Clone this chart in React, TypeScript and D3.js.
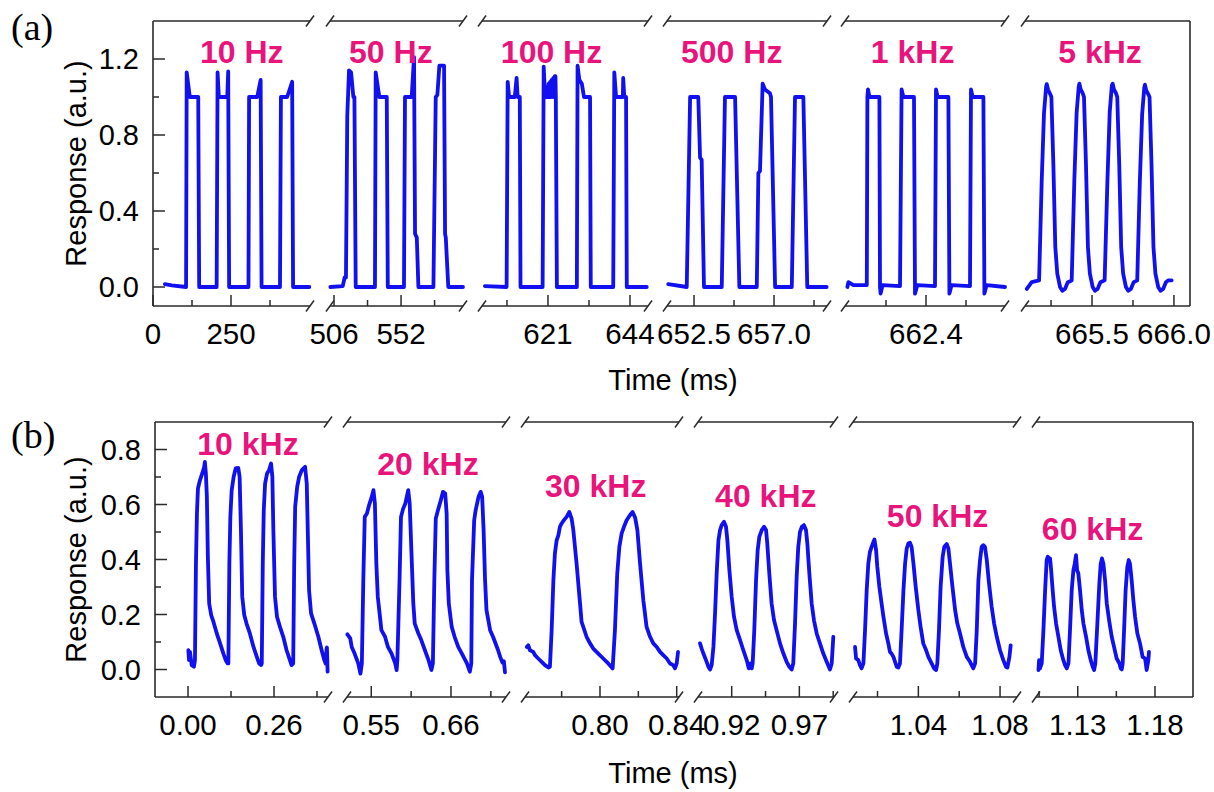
import React from "react";
import * as d3 from "d3";

type Pt = [number, number];

// ---------- panel (a): response vs time (ms) ----------
const trace10Hz: Pt[] = [
  [38, 0.015], [60, 0.008], [106, 0.0], [108, 1.13], [118, 1.0], [145, 1.0], [148, 0.0],
  [204, 0.0], [207, 1.13], [211, 1.0], [238, 1.0], [241, 1.135], [244, 0.0],
  [306, 0.0], [308, 1.0], [334, 1.0], [345, 1.09], [348, 0.0],
  [407, 0.0], [410, 1.0], [430, 1.0], [446, 1.08], [449, 0.0], [501, 0.0],
];
const trace50Hz: Pt[] = [
  [503.5, 0.0], [512, 0.005], [513.3, 0.05], [514.2, 0.05], [515.1, 0.9], [516.3, 1.14], [517.7, 1.13],
  [519.3, 1.0], [520, 1.0], [520.9, 0.0],
  [534.1, 0.0], [534.6, 1.13], [537.1, 1.0], [542.2, 1.0], [542.9, 0.0],
  [554, 0.0], [554.7, 1.0], [559.3, 1.0], [560.9, 1.21], [561.6, 0.28], [562.8, 0.26], [563.9, 0.0],
  [574.2, 0.0], [575.8, 1.0], [576.9, 1.01], [578.3, 1.165], [581.5, 1.165], [582.2, 0.28], [582.7, 0.26],
  [584.4, 0.0], [594.5, 0.0],
];
const trace100Hz: Pt[] = [
  [603.3, 0.005], [609.4, 0.0], [609.7, 1.08], [610.1, 1.0], [611.7, 1.0], [612.2, 1.1], [612.5, 1.0],
  [613.1, 1.0], [613.3, 0.0],
  [619.5, 0.0], [619.8, 1.16], [620.2, 1.0], [620.6, 1.0], [620.8, 1.05], [620.9, 1.0], [621.2, 1.07],
  [621.3, 1.0], [621.6, 1.08], [621.7, 1.0], [622.0, 1.09], [622.1, 1.0], [622.5, 1.1], [622.6, 1.0],
  [622.9, 1.11], [623.0, 1.0], [623.1, 1.11], [623.2, 1.0], [623.5, 0.0],
  [629.1, 0.0], [629.3, 1.165], [629.8, 1.09], [630.5, 1.07], [631.1, 1.0], [632.8, 1.0], [633.0, 0.0],
  [639.3, 0.0], [639.6, 1.13], [640.1, 1.0], [642.0, 1.0], [642.1, 1.1], [642.4, 1.0], [642.9, 1.0],
  [643.1, 0.0], [648.7, 0.0],
];
const trace500Hz: Pt[] = [
  [651.05, 0.015], [652.09, 0.0], [652.28, 1.0], [652.74, 1.0], [652.84, 0.68], [652.93, 0.67], [653.06, 0.0],
  [654.06, 0.0], [654.24, 1.0], [654.81, 1.0], [655.05, 0.0],
  [656.03, 0.0], [656.12, 0.6], [656.21, 0.61], [656.36, 1.07], [656.49, 1.04], [656.77, 1.02], [656.83, 1.0],
  [657.06, 0.0],
  [658.0, 0.0], [658.18, 1.0], [658.65, 1.0], [658.87, 0.0], [659.96, 0.0],
];
const trace1kHz: Pt[] = [
  [662.007, 0.0], [662.012, 0.026], [662.037, 0.01], [662.104, 0.01], [662.107, 1.0], [662.11, 1.04],
  [662.117, 1.0], [662.167, 1.0], [662.17, 0.0], [662.173, -0.035], [662.183, 0.01], [662.27, 0.005],
  [662.278, 1.04], [662.287, 1.0], [662.34, 1.0], [662.345, -0.035], [662.357, 0.01], [662.445, 0.005],
  [662.45, 1.04], [662.458, 1.0], [662.512, 1.0], [662.517, -0.035], [662.528, 0.01], [662.62, 0.005],
  [662.625, 1.04], [662.633, 1.0], [662.687, 1.0], [662.692, -0.035], [662.703, 0.01], [662.795, 0.0],
];
const trace5kHz: Pt[] = [
  [665.102, -0.01], [665.132, 0.026], [665.163, 0.032], [665.177, 0.035], [665.193, 0.56], [665.207, 0.915],
  [665.22, 1.055], [665.224, 1.068], [665.232, 1.038], [665.244, 1.017], [665.252, 1.0], [665.264, 0.65],
  [665.276, 0.21], [665.288, 0.07], [665.305, 0.0], [665.319, -0.02], [665.335, -0.01], [665.352, 0.025],
  [665.37, 0.032],
  [665.376, 0.035], [665.392, 0.56], [665.406, 0.915], [665.419, 1.055], [665.423, 1.07], [665.431, 1.04],
  [665.443, 1.02], [665.451, 1.0], [665.463, 0.65], [665.475, 0.21], [665.487, 0.07], [665.504, 0.0],
  [665.518, -0.02], [665.534, -0.01], [665.551, 0.025], [665.568, 0.032],
  [665.577, 0.035], [665.594, 0.56], [665.608, 0.92], [665.621, 1.06], [665.626, 1.07], [665.634, 1.04],
  [665.646, 1.02], [665.654, 1.0], [665.666, 0.65], [665.678, 0.21], [665.69, 0.07], [665.707, 0.0],
  [665.721, -0.02], [665.737, -0.01], [665.754, 0.025], [665.77, 0.032],
  [665.776, 0.035], [665.792, 0.56], [665.806, 0.91], [665.819, 1.05], [665.823, 1.065], [665.831, 1.035],
  [665.843, 1.015], [665.851, 1.0], [665.863, 0.65], [665.875, 0.21], [665.887, 0.07], [665.904, 0.0],
  [665.918, -0.02], [665.934, -0.01], [665.951, 0.025], [665.965, 0.035], [665.986, 0.035],
];

const freqA = ["10 Hz", "50 Hz", "100 Hz", "500 Hz", "1 kHz", "5 kHz"];
const freqAAt: Pt[] = [[284.3, 1.18], [545.0, 1.18], [622.0, 1.18], [654.62, 1.18], [662.333, 1.18], [665.549, 1.18]];
const domainsA: Pt[] = [[0, 503.2], [503.25, 594.5], [602.5, 649.05], [650.98, 659.98], [661.995, 662.795], [665.091, 666.098]];
const majorA = [[0, 250], [506, 552], [621, 644], [652.5, 657], [662.4], [665.5, 666]];
const majorLabelsA = [["0", "250"], ["506", "552"], ["621", "644"], ["652.5", "657.0"], ["662.4"], ["665.5", "666.0"]];
const minorA = [[125, 375], [529, 575], [609.5, 632.5], [654.75, 659.25], [662.2, 662.6], [665.25, 665.75]];
const yDomainA: Pt = [-0.1, 1.4];
const yMajorA = [0, 0.4, 0.8, 1.2];
const yMinorA = [0.2, 0.6, 1.0];

// ---------- panel (b) ----------
const trace10kHz: Pt[] = [
  [0.001, 0.07], [0.003, 0.034], [0.006, 0.064], [0.011, 0.016], [0.018, 0.01], [0.021, 0.034], [0.024, 0.385],
  [0.027, 0.567], [0.03, 0.658], [0.036, 0.688], [0.043, 0.713], [0.049, 0.737], [0.051, 0.755], [0.054, 0.713],
  [0.057, 0.628], [0.06, 0.41], [0.064, 0.24], [0.07, 0.198], [0.077, 0.173], [0.087, 0.131], [0.097, 0.095],
  [0.107, 0.058], [0.114, 0.034], [0.12, 0.022],
  [0.122, 0.022], [0.125, 0.385], [0.128, 0.555], [0.132, 0.652], [0.138, 0.701], [0.144, 0.731], [0.152, 0.733],
  [0.156, 0.701], [0.16, 0.507], [0.164, 0.264], [0.17, 0.198], [0.177, 0.167], [0.187, 0.131], [0.198, 0.082],
  [0.208, 0.046], [0.215, 0.022], [0.221, 0.016],
  [0.223, 0.022], [0.226, 0.385], [0.229, 0.579], [0.233, 0.676], [0.239, 0.713], [0.245, 0.725], [0.251, 0.749],
  [0.255, 0.701], [0.258, 0.507], [0.263, 0.264], [0.269, 0.192], [0.278, 0.155], [0.288, 0.119], [0.298, 0.07],
  [0.308, 0.034], [0.313, 0.016],
  [0.318, 0.022], [0.321, 0.385], [0.324, 0.592], [0.33, 0.664], [0.336, 0.701], [0.344, 0.725], [0.354, 0.737],
  [0.359, 0.676], [0.362, 0.507], [0.366, 0.288], [0.372, 0.204], [0.382, 0.167], [0.394, 0.119], [0.404, 0.07],
  [0.412, 0.034], [0.416, 0.022], [0.419, 0.076], [0.42, 0.08], [0.422, -0.008],
];
const trace20kHz: Pt[] = [
  [0.517, 0.128], [0.521, 0.113], [0.523, 0.082], [0.527, 0.058], [0.532, 0.022], [0.535, -0.015], [0.537, 0.022],
  [0.539, 0.325], [0.541, 0.555], [0.544, 0.567], [0.547, 0.598], [0.55, 0.622], [0.553, 0.652], [0.555, 0.604],
  [0.557, 0.385], [0.559, 0.264], [0.562, 0.192], [0.564, 0.143], [0.569, 0.119], [0.573, 0.082], [0.578, 0.058],
  [0.583, 0.022], [0.585, -0.002],
  [0.586, 0.034], [0.589, 0.325], [0.591, 0.555], [0.594, 0.585], [0.597, 0.604], [0.601, 0.652], [0.603, 0.604],
  [0.606, 0.385], [0.608, 0.24], [0.61, 0.167], [0.615, 0.131], [0.619, 0.107], [0.624, 0.07], [0.629, 0.034],
  [0.633, -0.002],
  [0.635, 0.022], [0.637, 0.325], [0.639, 0.549], [0.642, 0.579], [0.646, 0.616], [0.649, 0.646], [0.652, 0.64],
  [0.654, 0.567], [0.655, 0.361], [0.657, 0.24], [0.661, 0.155], [0.665, 0.119], [0.67, 0.082], [0.675, 0.058],
  [0.682, 0.022], [0.686, -0.008],
  [0.688, 0.022], [0.689, 0.325], [0.692, 0.543], [0.694, 0.579], [0.698, 0.628], [0.701, 0.646], [0.703, 0.628],
  [0.705, 0.507], [0.707, 0.325], [0.709, 0.216], [0.714, 0.143], [0.718, 0.119], [0.725, 0.07], [0.728, 0.045],
  [0.731, 0.025], [0.733, 0.03], [0.7345, -0.01],
];
const trace30kHz: Pt[] = [
  [0.7618, 0.082], [0.7626, 0.088], [0.7635, 0.07], [0.7652, 0.064], [0.7661, 0.052], [0.7678, 0.04], [0.7696, 0.028],
  [0.7713, 0.016], [0.7731, 0.007], [0.7739, 0.01], [0.7748, 0.143], [0.7757, 0.325], [0.7765, 0.422], [0.7774, 0.47],
  [0.7783, 0.488], [0.7791, 0.519], [0.78, 0.531], [0.7812, 0.543], [0.7826, 0.555], [0.784, 0.573], [0.7852, 0.549],
  [0.7861, 0.507], [0.7878, 0.385], [0.7896, 0.24], [0.7904, 0.173], [0.7913, 0.155], [0.793, 0.119], [0.7948, 0.095],
  [0.7965, 0.076], [0.7991, 0.058], [0.8017, 0.04], [0.8043, 0.022], [0.8066, 0.004],
  [0.8078, 0.143], [0.809, 0.349], [0.8101, 0.446], [0.8113, 0.495], [0.8125, 0.519], [0.8139, 0.543], [0.8156, 0.561],
  [0.817, 0.573], [0.8183, 0.553], [0.8195, 0.507], [0.8209, 0.385], [0.8226, 0.252], [0.8243, 0.155], [0.8261, 0.119],
  [0.8278, 0.095], [0.8296, 0.082], [0.8313, 0.064], [0.833, 0.052], [0.8348, 0.04], [0.8365, 0.022], [0.8382, 0.016],
  [0.8391, 0.004], [0.84, 0.022], [0.8407, 0.064],
];
const trace40kHz: Pt[] = [
  [0.8966, 0.095], [0.8978, 0.076], [0.8991, 0.058], [0.901, 0.034], [0.9028, 0.01], [0.904, 0.0], [0.9052, 0.016],
  [0.9065, 0.082], [0.9077, 0.204], [0.9089, 0.349], [0.9102, 0.47], [0.9114, 0.507], [0.9126, 0.525], [0.9143, 0.537],
  [0.9158, 0.519], [0.9168, 0.47], [0.9183, 0.361], [0.92, 0.264], [0.9217, 0.192], [0.9237, 0.143], [0.9262, 0.107],
  [0.9286, 0.07], [0.9311, 0.034], [0.9326, 0.004], [0.934, 0.022], [0.9348, 0.004],
  [0.9355, 0.022], [0.9367, 0.143], [0.938, 0.325], [0.9392, 0.434], [0.9404, 0.482], [0.9422, 0.507], [0.9439, 0.519],
  [0.9454, 0.507], [0.9463, 0.458], [0.9478, 0.349], [0.9495, 0.24], [0.9513, 0.179], [0.9532, 0.143], [0.9557, 0.095],
  [0.9582, 0.058], [0.9606, 0.028], [0.9626, 0.01], [0.9643, 0.0],
  [0.9655, 0.022], [0.9668, 0.167], [0.968, 0.337], [0.9692, 0.446], [0.9705, 0.501], [0.9719, 0.519], [0.9734, 0.525],
  [0.9749, 0.507], [0.9759, 0.458], [0.9774, 0.349], [0.9791, 0.24], [0.9808, 0.179], [0.9828, 0.131], [0.9852, 0.095],
  [0.9877, 0.058], [0.9902, 0.028], [0.9926, 0.0], [0.9939, 0.022], [0.9951, 0.119],
];
const trace50kHz: Pt[] = [
  [1.009, 0.082], [1.0095, 0.04], [1.0106, 0.034], [1.0114, 0.016], [1.0122, 0.004], [1.0131, 0.022], [1.0139, 0.143],
  [1.0147, 0.288], [1.0155, 0.385], [1.0163, 0.428], [1.0171, 0.446], [1.018, 0.464], [1.0185, 0.473], [1.0193, 0.434],
  [1.0199, 0.373], [1.0209, 0.301], [1.022, 0.24], [1.0229, 0.192], [1.0242, 0.131], [1.0253, 0.095], [1.0261, 0.064],
  [1.0269, 0.058], [1.0278, 0.046], [1.0286, 0.028], [1.0294, 0.01], [1.0302, 0.007],
  [1.031, 0.022], [1.0318, 0.143], [1.0327, 0.288], [1.0335, 0.385], [1.0343, 0.44], [1.0351, 0.458], [1.0359, 0.461],
  [1.0367, 0.446], [1.0376, 0.385], [1.0387, 0.301], [1.04, 0.216], [1.0411, 0.155], [1.0424, 0.095], [1.0438, 0.07],
  [1.0449, 0.046], [1.0465, 0.022], [1.0477, 0.004], [1.0487, -0.002],
  [1.0493, 0.022], [1.0501, 0.143], [1.0509, 0.301], [1.0519, 0.41], [1.0527, 0.446], [1.0539, 0.456], [1.0547, 0.44],
  [1.0555, 0.385], [1.0567, 0.301], [1.058, 0.216], [1.0591, 0.167], [1.0604, 0.131], [1.062, 0.082], [1.0637, 0.046],
  [1.0653, 0.028], [1.0669, 0.004],
  [1.0678, 0.022], [1.0686, 0.143], [1.0694, 0.325], [1.0702, 0.398], [1.071, 0.446], [1.0718, 0.452], [1.0726, 0.446],
  [1.0735, 0.398], [1.0746, 0.313], [1.0759, 0.228], [1.0771, 0.167], [1.0784, 0.119], [1.08, 0.07], [1.0816, 0.034],
  [1.0829, 0.01], [1.0836, 0.007], [1.0846, 0.046], [1.0852, 0.088],
];
const trace60kHz: Pt[] = [
  [1.1046, -0.002], [1.105, 0.034], [1.1056, 0.004], [1.1067, 0.022], [1.1078, 0.143], [1.1089, 0.288], [1.1099, 0.398],
  [1.1106, 0.41], [1.1115, 0.404], [1.1121, 0.404], [1.1128, 0.361], [1.1136, 0.301], [1.1147, 0.228], [1.116, 0.167],
  [1.1175, 0.119], [1.119, 0.07], [1.1207, 0.034], [1.1218, 0.016], [1.1229, 0.004],
  [1.124, 0.022], [1.125, 0.143], [1.1261, 0.288], [1.1272, 0.361], [1.1281, 0.385], [1.1289, 0.416], [1.1296, 0.361],
  [1.1304, 0.349], [1.1315, 0.288], [1.1326, 0.216], [1.1337, 0.167], [1.1354, 0.119], [1.1369, 0.07], [1.1384, 0.034],
  [1.1397, 0.01], [1.1406, -0.002],
  [1.1414, 0.022], [1.1427, 0.167], [1.144, 0.313], [1.1449, 0.385], [1.1457, 0.404], [1.1466, 0.385], [1.1477, 0.325],
  [1.1488, 0.24], [1.1503, 0.179], [1.152, 0.119], [1.1535, 0.082], [1.1552, 0.04], [1.157, 0.022], [1.1578, 0.004],
  [1.1585, 0.0],
  [1.1591, 0.022], [1.16, 0.143], [1.161, 0.288], [1.1621, 0.373], [1.163, 0.398], [1.1638, 0.385], [1.1649, 0.325],
  [1.166, 0.252], [1.1671, 0.192], [1.1686, 0.131], [1.1703, 0.095], [1.172, 0.046], [1.1736, 0.04], [1.1746, -0.002],
  [1.1757, 0.034], [1.1761, 0.064],
];

const freqB = ["10 kHz", "20 kHz", "30 kHz", "40 kHz", "50 kHz", "60 kHz"];
const freqBAt: Pt[] = [[0.1814, 0.779], [0.6283, 0.7065], [0.7978, 0.6276], [0.9452, 0.5913], [1.0494, 0.5185], [1.1396, 0.4702]];
const domainsB: Pt[] = [[-0.0998, 0.4232], [0.5165, 0.7359], [0.7609, 0.8412], [0.8951, 0.9956], [1.008, 1.0883], [1.103, 1.2046]];
const majorB = [[0, 0.26], [0.55, 0.66], [0.8, 0.84], [0.92, 0.97], [1.04, 1.08], [1.13, 1.18]];
const minorB = [[0.13, 0.39], [0.605, 0.715], [0.78, 0.82], [0.945, 0.995], [1.02, 1.06], [1.105, 1.155]];
const yDomainB: Pt = [-0.1, 0.9];
const yMajorB = [0, 0.2, 0.4, 0.6, 0.8];
const yMinorB = [0.1, 0.3, 0.5, 0.7];

// layout
const panelA = {
  tag: "(a)", tagY: 40, left: 153, right: 1190, top: 21, bottom: 306, titleY: 390,
  segs: [[153, 310], [330, 463], [482, 648], [667, 827], [845, 1005], [1025, 1190]],
  domains: domainsA, traces: [trace10Hz, trace50Hz, trace100Hz, trace500Hz, trace1kHz, trace5kHz],
  major: majorA, labels: majorLabelsA, minor: minorA, freq: freqA, freqAt: freqAAt,
  yDomain: yDomainA, yMajor: yMajorA, yMinor: yMinorA,
};
const panelB = {
  tag: "(b)", tagY: 448, left: 155, right: 1193, top: 422, bottom: 697, titleY: 783,
  segs: [[155, 328], [347, 506], [525, 679], [698, 834], [853, 1017], [1036, 1193]],
  domains: domainsB, traces: [trace10kHz, trace20kHz, trace30kHz, trace40kHz, trace50kHz, trace60kHz],
  major: majorB, labels: majorB.map(a => a.map(d3.format(".2f"))), minor: minorB, freq: freqB, freqAt: freqBAt,
  yDomain: yDomainB, yMajor: yMajorB, yMinor: yMinorB,
};

const AX = "#2a2a2a";
const SANS = "'Liberation Sans', Arial, sans-serif";

function Panel({ p }: { p: any }) {
  const y = d3.scaleLinear().domain(p.yDomain).range([p.bottom, p.top]);
  const xs = p.segs.map((r: number[], i: number) => d3.scaleLinear().domain(p.domains[i]).range(r));
  const slash = (x: number, yy: number, k: string) => (
    <line key={k} x1={x - 4} y1={yy + 5.5} x2={x + 4} y2={yy - 5.5} stroke={AX} strokeWidth={1.5} />
  );
  const n = p.segs.length;
  const midY = (p.top + p.bottom) / 2;

  return (
    <g>
      <text x={11} y={p.tagY} fontFamily="'Liberation Serif', 'Times New Roman', serif" fontSize={38}>{p.tag}</text>

      {/* frame: full left/right, broken top/bottom */}
      <line x1={p.left} x2={p.left} y1={p.top} y2={p.bottom} stroke={AX} strokeWidth={1.6} />
      <line x1={p.right} x2={p.right} y1={p.top} y2={p.bottom} stroke={AX} strokeWidth={1.6} />
      {p.segs.map((r: number[], i: number) => (
        <g key={"s" + i}>
          <line x1={r[0]} x2={r[1]} y1={p.top} y2={p.top} stroke={AX} strokeWidth={1.6} />
          <line x1={r[0]} x2={r[1]} y1={p.bottom} y2={p.bottom} stroke={AX} strokeWidth={1.6} />
          {i > 0 && [slash(r[0], p.top, "a"), slash(r[0], p.bottom, "b")]}
          {i < n - 1 && [slash(r[1], p.top, "c"), slash(r[1], p.bottom, "d")]}
        </g>
      ))}

      {/* y axis */}
      {p.yMajor.map((v: number) => (
        <g key={"ym" + v}>
          <line x1={p.left} x2={p.left + 12} y1={y(v)} y2={y(v)} stroke={AX} strokeWidth={1.5} />
          <text x={p.left - 14} y={y(v)} dy="0.36em" textAnchor="end" fontFamily={SANS} fontSize={29}>
            {d3.format(".1f")(v)}
          </text>
        </g>
      ))}
      {p.yMinor.map((v: number) => (
        <line key={"yn" + v} x1={p.left} x2={p.left + 6} y1={y(v)} y2={y(v)} stroke={AX} strokeWidth={1.5} />
      ))}
      <text transform={`translate(86,${midY}) rotate(-90)`} textAnchor="middle" fontFamily={SANS} fontSize={29}>
        Response (a.u.)
      </text>

      {/* x ticks per segment */}
      {xs.map((x: any, i: number) => (
        <g key={"x" + i}>
          {p.major[i].map((t: number, j: number) => (
            <g key={"xm" + j}>
              <line x1={x(t)} x2={x(t)} y1={p.bottom} y2={p.bottom - 11} stroke={AX} strokeWidth={1.5} />
              <text x={x(t)} y={p.bottom + 38} textAnchor="middle" fontFamily={SANS} fontSize={29.5}>
                {p.labels[i][j]}
              </text>
            </g>
          ))}
          {p.minor[i].map((t: number, j: number) => (
            <line key={"xn" + j} x1={x(t)} x2={x(t)} y1={p.bottom} y2={p.bottom - 6} stroke={AX} strokeWidth={1.5} />
          ))}
        </g>
      ))}
      <text x={673} y={p.titleY} textAnchor="middle" fontFamily={SANS} fontSize={29}>Time (ms)</text>

      {/* traces */}
      {xs.map((x: any, i: number) => {
        const line = d3.line<Pt>().x(d => x(d[0])).y(d => y(d[1]));
        return (
          <path key={"t" + i} d={line(p.traces[i]) || ""} fill="none" stroke="#1010f0"
            strokeWidth={3.8} strokeLinejoin="round" strokeLinecap="round" />
        );
      })}

      {/* frequency labels */}
      {xs.map((x: any, i: number) => (
        <text key={"f" + i} x={x(p.freqAt[i][0])} y={y(p.freqAt[i][1])} textAnchor="middle"
          fontFamily={SANS} fontWeight="bold" fontSize={32} fill="#e8147c">
          {p.freq[i]}
        </text>
      ))}
    </g>
  );
}

export default function App() {
  return (
    <div style={{ position: "absolute", left: 0, top: 0 }}>
      <svg width={1214} height={792} style={{ display: "block", background: "#fff" }}>
        <Panel p={panelA} />
        <Panel p={panelB} />
      </svg>
    </div>
  );
}
